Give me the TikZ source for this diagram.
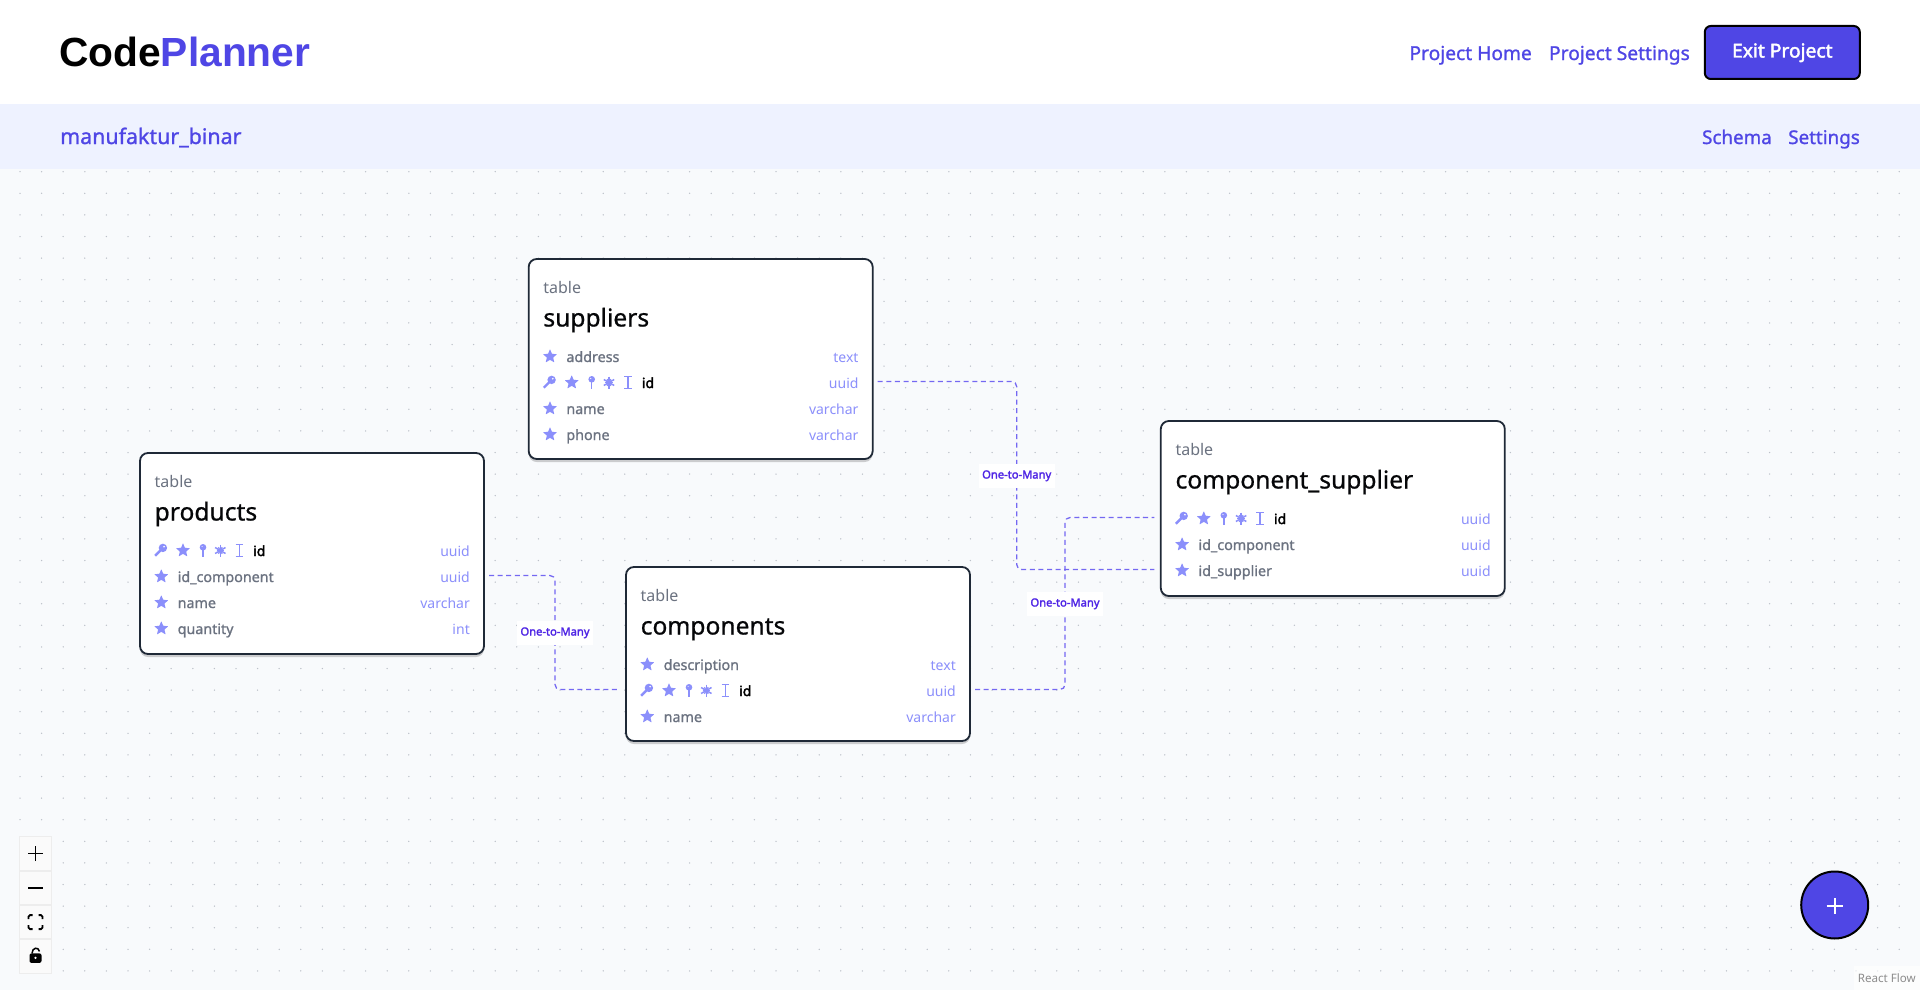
\documentclass[tikz,border=0pt]{standalone}
\usepackage{fontspec}
\setmainfont{Noto Sans}
\newfontfamily\logofont{Liberation Sans}[BoldFont=* Bold]
\newfontfamily\mediumfont{Noto Sans}[FakeBold=1.1]
\newfontfamily\titlefont{Noto Sans}[FakeBold=0.7]
\newfontfamily\heavyfont{Noto Sans}[FakeBold=2.2]
\definecolor{brand}{HTML}{4F46E5}
\definecolor{subbar}{HTML}{EEF2FF}
\definecolor{canvas}{HTML}{F8FAFC}
\definecolor{griddot}{HTML}{BCC1C9}
\definecolor{cardline}{HTML}{1F2937}
\definecolor{mutedtext}{HTML}{6B7280}
\definecolor{typeblue}{HTML}{8B8FFB}
\definecolor{relation}{HTML}{7468F2}
\definecolor{relationtext}{HTML}{4F25E5}
\usetikzlibrary{positioning, shadows}
\newcommand{\px}[1]{\fontsize{#1}{#1}\selectfont}
\tikzset{x=1pt, y=-1pt,
  starmark/.pic={\fill[typeblue, rounded corners=.5pt] (-90:7.4) -- (-54:3.3) -- (-18:7.4) -- (18:3.3) -- (54:7.4) -- (90:3.3) -- (126:7.4) -- (162:3.3) -- (198:7.4) -- (234:3.3) -- cycle;},
  keymark/.pic={\fill[typeblue] (2.6,-2.6) circle (4.2);
    \draw[typeblue, line width=2.4pt] (1,-1) -- (-5.2,5.2);
    \fill[white] (3.8,-3.8) circle (.9);},
  pinmark/.pic={\fill[typeblue] (0,-3.2) circle (3.3);
    \draw[typeblue, line width=1.5pt] (0,-1) -- (0,6.5);
    \fill[white] (-.9,-4) circle (.6);},
  flakemark/.pic={\foreach \a in {0,60,120} \draw[typeblue, line width=1.5pt] (\a+30:-6) -- (\a+30:6);
    \foreach \a in {0,60,120} \draw[typeblue, line width=1.2pt] (\a:-3.8) -- (\a:3.8);},
  cursormark/.pic={\draw[typeblue, line width=1.3pt] (-3.8,-6.2) -- (3.8,-6.2) (0,-6.2) -- (0,6.2) (-3.8,6.2) -- (3.8,6.2);}
}
% one card, rows are given as name/type/row
\newcommand{\dbtable}[6]{
  \begin{scope}[shift={(#2,#3)}]
    \node[tablecard, minimum height=#4pt] (#1) at (172,#4/2) {};
    \node[kindtext] (#1-kind) at (14.5,28) {table};
    \node[titletext] (#1-title) at (14.5,61) {#5};
    \foreach \fname/\ftype/\frow in {#6} {
      \pic at (21.3,97.5+26*\frow) {starmark};
      \node[fieldtext] (#1-\frow-name) at (37.5,99+26*\frow) {\fname};
      \node[typelabel] (#1-\frow-type) at (330,99+26*\frow) {\ftype};
    }
  \end{scope}
}
% the primary key row of a card
\newcommand{\keyfield}[5]{
  \begin{scope}[shift={(#2,#3)}]
    \pic at (20.3,97.5+26*#4) {keymark};
    \pic at (43,97.5+26*#4) {starmark};
    \pic at (63,97.5+26*#4) {pinmark};
    \pic at (80.3,97.5+26*#4) {flakemark};
    \pic at (99.3,97.5+26*#4) {cursormark};
    \node[fieldtext, text=black, font=\heavyfont\px{14}] (#1-#4-name) at (113,99+26*#4) {id};
    \node[typelabel] (#1-#4-type) at (330,99+26*#4) {#5};
  \end{scope}
}
\newcommand{\rowports}[4]{
  \coordinate (#1-#4-in) at (#2-6.5,#3+96.5+26*#4);
  \coordinate (#1-#4-out) at (#2+349,#3+96.5+26*#4);
}
\begin{document}
\begin{tikzpicture}[
    tablecard/.style={rectangle, draw=cardline, line width=1.8pt, fill=white, rounded corners=8pt, minimum width=344pt, inner sep=0pt, drop shadow={shadow xshift=0pt, shadow yshift=-3pt, opacity=.18, fill=black}},
    kindtext/.style={anchor=west, inner sep=0pt, text=mutedtext, font=\px{16}, text height=12pt, text depth=0pt},
    titletext/.style={anchor=west, inner sep=0pt, text=black!85!cardline, font=\titlefont\px{24.6}, text height=13pt, text depth=0pt},
    fieldtext/.style={anchor=west, inner sep=0pt, text=mutedtext, font=\mediumfont\px{14.3}, text height=8pt, text depth=0pt},
    typelabel/.style={anchor=east, inner sep=0pt, text=typeblue, font=\px{14}, text height=8pt, text depth=0pt},
    navtext/.style={inner sep=0pt, text=brand, font=\mediumfont\px{19.2}, text height=10pt, text depth=0pt},
    relationline/.style={draw=relation, line width=1.3pt, dash pattern=on 5pt off 3.6pt, rounded corners=5pt},
    relationlabel/.style={rectangle, fill=white, minimum width=76pt, minimum height=24pt, inner sep=0pt, text=relationtext, font=\heavyfont\px{11.2}, text height=6pt, text depth=0pt},
    controlcell/.style={rectangle, fill=black!2, draw=black!7, line width=.8pt, minimum width=32pt, minimum height=33.5pt, inner sep=0pt}
  ]
  \useasboundingbox (0,0) rectangle (1920,990);
  \fill[white] (0,0) rectangle (1920,104);
  \fill[subbar] (0,104) rectangle (1920,169);
  \fill[canvas] (0,169) rectangle (1920,990);
  \foreach \r in {0,...,37}
    \foreach \c in {0,...,88}
      \fill[griddot] ({20+21.6*\c},{171.7+21.6*\r}) circle (.75);

  % header
  \node[anchor=west, inner sep=0pt, font=\logofont\bfseries\px{40.7}] (logo) at (59,52) {Code\textcolor{brand}{Planner}};
  \node[navtext, anchor=east] (projecthome) at (1532,55) {Project Home};
  \node[navtext, anchor=east] (projectsettings) at (1690,55) {Project Settings};
  \node[rectangle, fill=brand, draw=black, line width=2pt, rounded corners=6pt, minimum width=155pt, minimum height=53pt, inner sep=0pt, text=white, font=\heavyfont\px{19.2}, text height=10pt, text depth=0pt] (exitproject) at (1782.3,52.5) {Exit Project};
  \node[navtext, anchor=west, font=\mediumfont\px{21.4}, text height=12pt] (projectname) at (60,138) {manufaktur\_binar};
  \node[navtext, anchor=east, font=\mediumfont\px{18.8}] (schema) at (1772,139) {Schema};
  \node[navtext, anchor=east, font=\mediumfont\px{18.8}] (settings) at (1860,139) {Settings};

  % tables
  \rowports{suppliers}{528.7}{259}{1}
  \rowports{products}{140}{453}{1}
  \rowports{components}{626}{567}{1}
  \rowports{component_supplier}{1160.8}{421}{0}
  \rowports{component_supplier}{1160.8}{421}{2}
  \coordinate (relation1) at (1016.7,475.5);
  \coordinate (relation2) at (1065,603.5);
  \coordinate (relation3) at (555,632.5);

  \dbtable{suppliers}{528.7}{259}{200}{suppliers}{address/text/0, name/varchar/2, phone/varchar/3}
  \keyfield{suppliers}{528.7}{259}{1}{uuid}
  \dbtable{products}{140}{453}{201}{products}{id\_component/uuid/1, name/varchar/2, quantity/int/3}
  \keyfield{products}{140}{453}{0}{uuid}
  \dbtable{components}{626}{567}{174}{components}{description/text/0, name/varchar/2}
  \keyfield{components}{626}{567}{1}{uuid}
  \dbtable{component_supplier}{1160.8}{421}{175}{component\_supplier}{id\_component/uuid/1, id\_supplier/uuid/2}
  \keyfield{component_supplier}{1160.8}{421}{0}{uuid}

  % relations
  \draw[relationline] (suppliers-1-out) -| (relation1) |- (component_supplier-2-in);
  \draw[relationline] (components-1-out) -| (relation2) |- (component_supplier-0-in);
  \draw[relationline] (products-1-out) -| (relation3) |- (components-1-in);
  \node[relationlabel] (label1) at (relation1) {One-to-Many};
  \node[relationlabel] (label2) at (relation2) {One-to-Many};
  \node[relationlabel] (label3) at (relation3) {One-to-Many};

  % zoom controls
  \node[controlcell] (zoomin) at (35.5,853.5) {};
  \node[controlcell, below=0pt of zoomin] (zoomout) {};
  \node[controlcell, below=0pt of zoomout] (fitview) {};
  \node[controlcell, below=0pt of fitview] (lockview) {};
  \draw[black, line width=1.9pt] ([xshift=-7.5pt]zoomin.center) -- ([xshift=7.5pt]zoomin.center) ([yshift=-7.5pt]zoomin.center) -- ([yshift=7.5pt]zoomin.center);
  \draw[black, line width=1.9pt] ([xshift=-7.5pt]zoomout.center) -- ([xshift=7.5pt]zoomout.center);
  \begin{scope}[shift={(fitview.center)}]
    \draw[black, line width=1.8pt, rounded corners=1.5pt] (-7,-3) -- (-7,-7) -- (-3,-7) (3,-7) -- (7,-7) -- (7,-3) (7,3) -- (7,7) -- (3,7) (-3,7) -- (-7,7) -- (-7,3);
  \end{scope}
  \begin{scope}[shift={(lockview.center)}]
    \fill[black, rounded corners=2pt] (-6,-3) rectangle (6,6.5);
    \draw[black, line width=1.5pt] (-3.5,-3) .. controls (-3.5,-9) and (3,-10) .. (4,-5);
    \fill[white] (0,1.5) circle (1.3);
  \end{scope}

  % add button
  \node[circle, fill=brand, draw=black, line width=2pt, minimum size=67pt, inner sep=0pt] (addtable) at (1834.7,905) {};
  \draw[white, line width=2pt] ([xshift=-8pt,yshift=-1pt]addtable.center) -- ([xshift=8pt,yshift=-1pt]addtable.center) ([yshift=7pt]addtable.center) -- ([yshift=-9pt]addtable.center);
  \node[rectangle, fill=white, fill opacity=.6, text opacity=1, anchor=south east, minimum width=66pt, minimum height=24pt, inner sep=0pt, text=black!45, font=\px{11.6}] (reactflow) at (1920,990) {React Flow};
\end{tikzpicture}
\end{document}
